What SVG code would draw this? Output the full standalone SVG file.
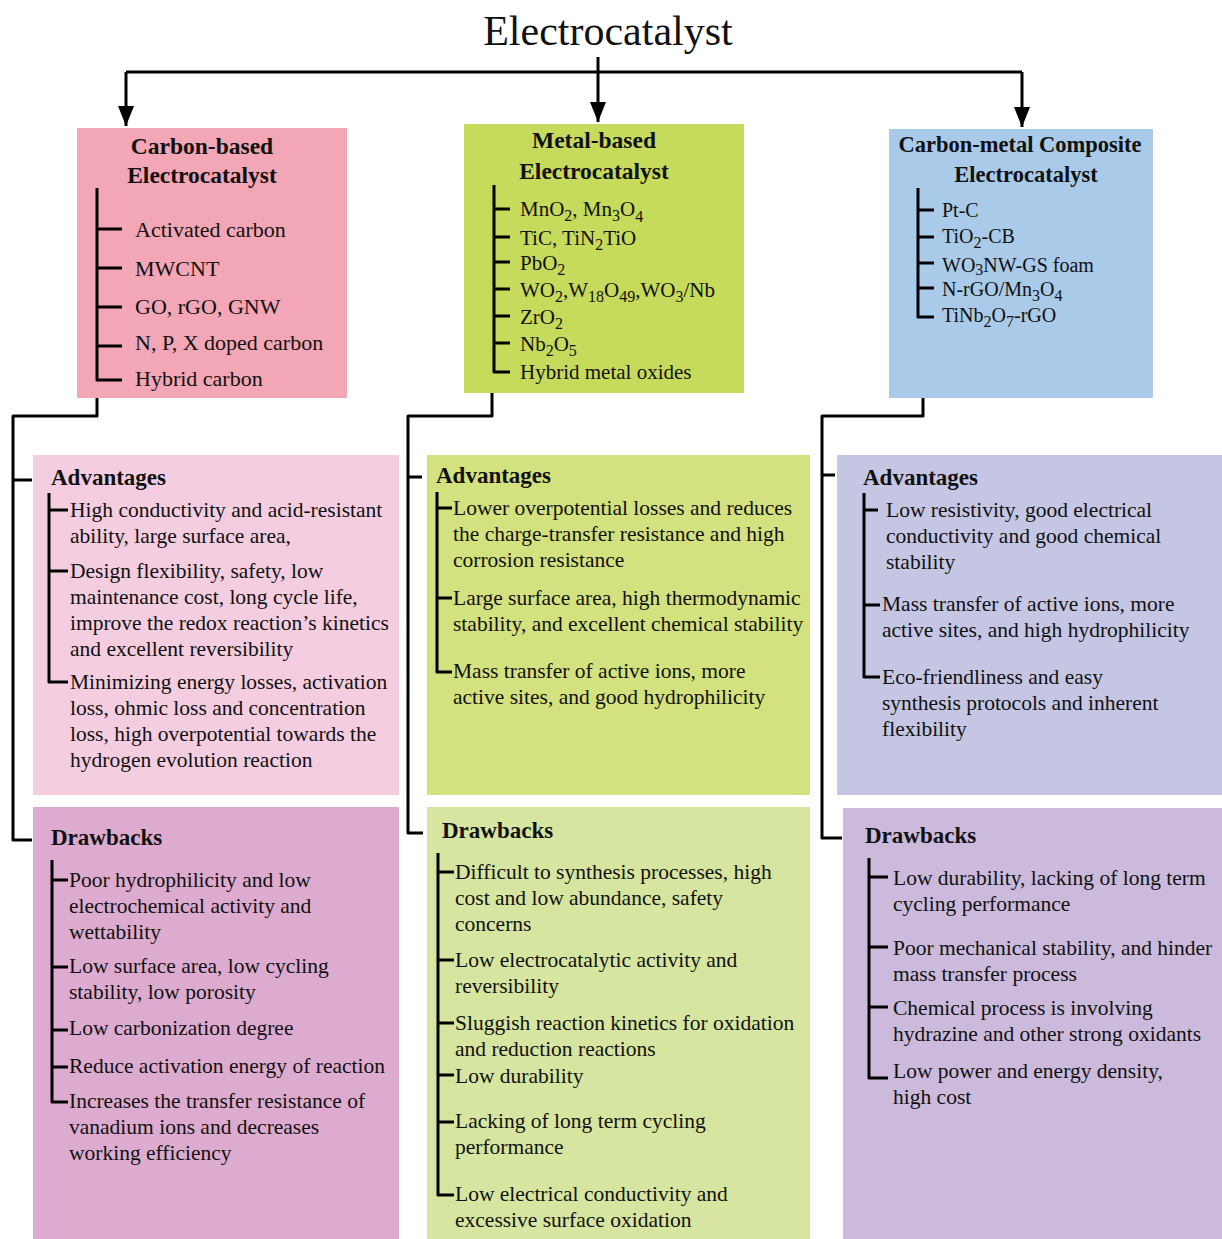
<svg xmlns="http://www.w3.org/2000/svg" width="1222" height="1239" viewBox="0 0 1222 1239">
<style>
text{font-family:"Liberation Serif","Times New Roman",serif;fill:#111}
.title{font-size:42px}
.hd{font-size:23.5px;font-weight:bold;text-anchor:middle}
.hd3{font-size:22.5px;font-weight:bold;text-anchor:middle}
.sh{font-size:23px;font-weight:bold}
.t{font-size:21.5px}
.i1{font-size:22px}
.i2{font-size:21px}
.i3{font-size:20px}
.s{font-size:16px}
.ln{fill:none;stroke:#000;stroke-width:3;stroke-linejoin:round}
.tr{fill:none;stroke:#000;stroke-width:3;stroke-linejoin:round}
</style>
<defs>
<marker id="ah" viewBox="0 0 20 16" refX="20" refY="8" markerWidth="20" markerHeight="16" markerUnits="userSpaceOnUse" orient="auto">
<path d="M0,0 L20,8 L0,16 z" fill="#000"/>
</marker>
</defs>
<rect width="1222" height="1239" fill="#fff"/>

<g id="title">
<text class="title" x="608" y="45" text-anchor="middle">Electrocatalyst</text>
</g>

<g id="carbon-based">
<rect x="77" y="128" width="270" height="270" fill="#f3a6b6"/>
<text class="hd" x="202" y="154">Carbon-based</text>
<text class="hd" x="202" y="183">Electrocatalyst</text>
<path class="tr" d="M97,188 V380 H122 M97,229 H122 M97,268 H122 M97,307 H122 M97,346 H122"/>
<text class="i1" x="135" y="237">Activated carbon</text>
<text class="i1" x="135" y="276">MWCNT</text>
<text class="i1" x="135" y="314">GO, rGO, GNW</text>
<text class="i1" x="135" y="350">N, P, X doped carbon</text>
<text class="i1" x="135" y="386">Hybrid carbon</text>
</g>

<g id="metal-based">
<rect x="464" y="124" width="280" height="269" fill="#c6da5c"/>
<text class="hd" x="594" y="148">Metal-based</text>
<text class="hd" x="594" y="179">Electrocatalyst</text>
<path class="tr" d="M494,185 V372 H510 M494,209 H510 M494,237 H510 M494,262 H510 M494,289 H510 M494,316 H510 M494,343 H510"/>
<text class="i2" x="520" y="216">MnO<tspan class="s" dy="5">2</tspan><tspan dy="-5">, Mn</tspan><tspan class="s" dy="5">3</tspan><tspan dy="-5">O</tspan><tspan class="s" dy="6">4</tspan></text>
<text class="i2" x="520" y="245">TiC, TiN<tspan class="s" dy="5">2</tspan><tspan dy="-5">TiO</tspan></text>
<text class="i2" x="520" y="270">PbO<tspan class="s" dy="5">2</tspan></text>
<text class="i2" x="520" y="297">WO<tspan class="s" dy="5">2</tspan><tspan dy="-5">,W</tspan><tspan class="s" dy="5">18</tspan><tspan dy="-5">O</tspan><tspan class="s" dy="5">49</tspan><tspan dy="-5">,WO</tspan><tspan class="s" dy="5">3</tspan><tspan dy="-5">/Nb</tspan></text>
<text class="i2" x="520" y="324">ZrO<tspan class="s" dy="5">2</tspan></text>
<text class="i2" x="520" y="351">Nb<tspan class="s" dy="5">2</tspan><tspan dy="-5">O</tspan><tspan class="s" dy="5">5</tspan></text>
<text class="i2" x="520" y="379">Hybrid metal oxides</text>
</g>

<g id="composite">
<rect x="889" y="129" width="264" height="269" fill="#a9cae9"/>
<text class="hd3" x="1020" y="152">Carbon-metal Composite</text>
<text class="hd3" x="1026" y="182">Electrocatalyst</text>
<path class="tr" d="M918,188 V317 H934 M918,210 H934 M918,237 H934 M918,263 H934 M918,288 H934"/>
<text class="i3" x="942" y="217">Pt-C</text>
<text class="i3" x="942" y="243">TiO<tspan class="s" dy="5">2</tspan><tspan dy="-5">-CB</tspan></text>
<text class="i3" x="942" y="272">WO<tspan class="s" dy="3">3</tspan><tspan dy="-3">NW-GS foam</tspan></text>
<text class="i3" x="942" y="296">N-rGO/Mn<tspan class="s" dy="5">3</tspan><tspan dy="-5">O</tspan><tspan class="s" dy="5">4</tspan></text>
<text class="i3" x="942" y="322">TiNb<tspan class="s" dy="5">2</tspan><tspan dy="-5">O</tspan><tspan class="s" dy="5">7</tspan><tspan dy="-5">-rGO</tspan></text>
</g>

<g id="adv-carbon">
<rect x="33" y="455" width="366" height="340" fill="#f4cee0"/>
<text class="sh" x="51" y="485">Advantages</text>
<path class="tr" d="M49,493 V682 H68 M49,510 H68 M49,571 H68"/>
<text class="t" x="70" y="517">High conductivity and acid-resistant</text>
<text class="t" x="70" y="543">ability, large surface area,</text>
<text class="t" x="70" y="578">Design flexibility, safety, low</text>
<text class="t" x="70" y="604">maintenance cost, long cycle life,</text>
<text class="t" x="70" y="630">improve the redox reaction’s kinetics</text>
<text class="t" x="70" y="656">and excellent reversibility</text>
<text class="t" x="70" y="689">Minimizing energy losses, activation</text>
<text class="t" x="70" y="715">loss, ohmic loss and concentration</text>
<text class="t" x="70" y="741">loss, high overpotential towards the</text>
<text class="t" x="70" y="767">hydrogen evolution reaction</text>
</g>

<g id="drw-carbon">
<rect x="33" y="807" width="366" height="432" fill="#ddabcf"/>
<text class="sh" x="51" y="845">Drawbacks</text>
<path class="tr" d="M52,860 V1102 H68 M52,880 H68 M52,967 H68 M52,1030 H68 M52,1067 H68"/>
<text class="t" x="69" y="887">Poor hydrophilicity and low</text>
<text class="t" x="69" y="913">electrochemical activity and</text>
<text class="t" x="69" y="939">wettability</text>
<text class="t" x="69" y="973">Low surface area, low cycling</text>
<text class="t" x="69" y="999">stability, low porosity</text>
<text class="t" x="69" y="1035">Low carbonization degree</text>
<text class="t" x="69" y="1073">Reduce activation energy of reaction</text>
<text class="t" x="69" y="1108">Increases the transfer resistance of</text>
<text class="t" x="69" y="1134">vanadium ions and decreases</text>
<text class="t" x="69" y="1160">working efficiency</text>
</g>

<g id="adv-metal">
<rect x="427" y="455" width="383" height="340" fill="#d3e17e"/>
<text class="sh" x="436" y="483">Advantages</text>
<path class="tr" d="M437,492 V672 H452 M437,508 H452 M437,598 H452"/>
<text class="t" x="453" y="515">Lower overpotential losses and reduces</text>
<text class="t" x="453" y="541">the charge-transfer resistance and high</text>
<text class="t" x="453" y="567">corrosion resistance</text>
<text class="t" x="453" y="605">Large surface area, high thermodynamic</text>
<text class="t" x="453" y="631">stability, and excellent chemical stability</text>
<text class="t" x="453" y="678">Mass transfer of active ions, more</text>
<text class="t" x="453" y="704">active sites, and good hydrophilicity</text>
</g>

<g id="drw-metal">
<rect x="427" y="807" width="383" height="432" fill="#d6e59f"/>
<text class="sh" x="442" y="838">Drawbacks</text>
<path class="tr" d="M438,853 V1195 H454 M438,872 H454 M438,960 H454 M438,1023 H454 M438,1075 H454 M438,1122 H454"/>
<text class="t" x="455" y="879">Difficult to synthesis processes, high</text>
<text class="t" x="455" y="905">cost and low abundance, safety</text>
<text class="t" x="455" y="931">concerns</text>
<text class="t" x="455" y="967">Low electrocatalytic activity and</text>
<text class="t" x="455" y="993">reversibility</text>
<text class="t" x="455" y="1030">Sluggish reaction kinetics for oxidation</text>
<text class="t" x="455" y="1056">and reduction reactions</text>
<text class="t" x="455" y="1083">Low durability</text>
<text class="t" x="455" y="1128">Lacking of long term cycling</text>
<text class="t" x="455" y="1154">performance</text>
<text class="t" x="455" y="1201">Low electrical conductivity and</text>
<text class="t" x="455" y="1227">excessive surface oxidation</text>
</g>

<g id="adv-composite">
<rect x="837" y="455" width="385" height="340" fill="#c5c6e4"/>
<text class="sh" x="863" y="485">Advantages</text>
<path class="tr" d="M864,493 V677 H880 M864,510 H878 M864,605 H880"/>
<text class="t" x="886" y="517">Low resistivity, good electrical</text>
<text class="t" x="886" y="543">conductivity and good chemical</text>
<text class="t" x="886" y="569">stability</text>
<text class="t" x="882" y="611">Mass transfer of active ions, more</text>
<text class="t" x="882" y="637">active sites, and high hydrophilicity</text>
<text class="t" x="882" y="684">Eco-friendliness and easy</text>
<text class="t" x="882" y="710">synthesis protocols and inherent</text>
<text class="t" x="882" y="736">flexibility</text>
</g>

<g id="drw-composite">
<rect x="843" y="808" width="379" height="431" fill="#cbbadc"/>
<text class="sh" x="865" y="843">Drawbacks</text>
<path class="tr" d="M869,858 V1078 H888 M869,877 H888 M869,947 H888 M869,1007 H888"/>
<text class="t" x="893" y="885">Low durability, lacking of long term</text>
<text class="t" x="893" y="911">cycling performance</text>
<text class="t" x="893" y="955">Poor mechanical stability, and hinder</text>
<text class="t" x="893" y="981">mass transfer process</text>
<text class="t" x="893" y="1015">Chemical process is involving</text>
<text class="t" x="893" y="1041">hydrazine and other strong oxidants</text>
<text class="t" x="893" y="1078">Low power and energy density,</text>
<text class="t" x="893" y="1104">high cost</text>
</g>

<g id="connectors">
<path class="ln" d="M126,72 H1022"/>
<path class="ln" d="M598,57 V122" marker-end="url(#ah)"/>
<path class="ln" d="M126,72 V126" marker-end="url(#ah)"/>
<path class="ln" d="M1022,72 V127" marker-end="url(#ah)"/>
<path class="ln" d="M97,398 V416 H13 V840 H32 M13,480 H32"/>
<path class="ln" d="M492,393 V416 H408 V833 H423 M408,477 H422"/>
<path class="ln" d="M923,398 V416 H822 V838 H842 M822,475 H835"/>
</g>
</svg>
